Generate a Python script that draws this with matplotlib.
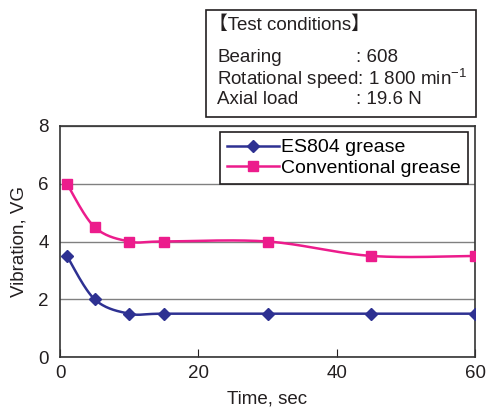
#!/usr/bin/env python3
"""Vibration vs time for ES804 and conventional grease."""
import numpy as np
import matplotlib
matplotlib.use("Agg")
import matplotlib.pyplot as plt
from matplotlib.patches import Rectangle

plt.rcParams["font.family"] = ["Liberation Sans", "Noto Sans CJK JP", "DejaVu Sans"]
plt.rcParams["mathtext.default"] = "regular"

time_s = [1, 5, 10, 15, 30, 45, 60]
es804 = [3.5, 2.0, 1.5, 1.5, 1.5, 1.5, 1.5]
conventional = [6.0, 4.5, 4.0, 4.0, 4.0, 3.5, 3.5]

BLUE = "#2e3192"
PINK = "#ec1c8c"
INK = "#231f20"
FS = 13.5


def smooth(x, y, xspan, yspan, n=30):
    """Excel-like smoothed line (Catmull-Rom through the points)."""
    p = np.column_stack([np.asarray(x, float) / xspan, np.asarray(y, float) / yspan])
    p = np.vstack([p[0], p, p[-1]])
    out = []
    t = np.linspace(0, 1, n)[:, None]
    for i in range(1, len(p) - 2):
        p0, p1, p2, p3 = p[i - 1], p[i], p[i + 1], p[i + 2]
        c1 = p1 + (p2 - p0) / 6
        c2 = p2 - (p3 - p1) / 6
        seg = ((1 - t) ** 3) * p1 + 3 * ((1 - t) ** 2) * t * c1 + 3 * (1 - t) * t ** 2 * c2 + t ** 3 * p2
        out.append(seg)
    out = np.vstack(out)
    return out[:, 0] * xspan, out[:, 1] * yspan


fig = plt.figure(figsize=(4.86, 4.08), dpi=100)
ax = fig.add_axes([60 / 486, 1 - 357 / 408, 415 / 486, 231 / 408])

xspan, yspan = 60.0, 8.0 * 415 / 231
for ys, color, marker, label in [
    (es804, BLUE, "D", "ES804 grease"),
    (conventional, PINK, "s", "Conventional grease"),
]:
    sx, sy = smooth(time_s, ys, xspan, yspan)
    ax.plot(sx, sy, color=color, lw=1.8, zorder=3)
    ax.plot(time_s, ys, ls="none", marker=marker, ms=6.5, color=color, zorder=4)
    ax.plot([], [], color=color, lw=1.8, marker=marker, ms=6.5, label=label)

ax.set_xlim(0, 60)
ax.set_ylim(0, 8)
ax.set_xticks([0, 20, 40, 60])
ax.set_yticks([0, 2, 4, 6, 8])
ax.yaxis.grid(True, color="#808080", lw=1.0)
ax.set_axisbelow(True)
ax.tick_params(axis="x", direction="in", length=6, pad=6, labelsize=FS, colors=INK)
ax.tick_params(axis="y", length=0, pad=8, labelsize=FS, colors=INK)
for s in ax.spines.values():
    s.set_color("#333333")
    s.set_linewidth(1.2)
ax.set_xlabel("Time, sec", fontsize=FS, color=INK, labelpad=6)
ax.set_ylabel("Vibration, VG", fontsize=FS, color=INK, labelpad=8)

leg = ax.legend(loc="upper right", bbox_to_anchor=(0.983, 1 - 6 / 231), borderaxespad=0,
                fontsize=14, handlelength=2.7, handletextpad=0.1, labelspacing=0.15,
                borderpad=0.35, fancybox=False, framealpha=1)
leg.get_frame().set_edgecolor(INK)
leg.get_frame().set_linewidth(1.2)

# test conditions box
fig.patches.append(Rectangle((206 / 486, 1 - 117 / 408), 270 / 486, 107 / 408,
                             transform=fig.transFigure, fill=False, edgecolor=INK, lw=1.2))
lx, cx = 217 / 486, 356 / 486
fig.text(209 / 486, 1 - 25 / 408, "【Test conditions】", fontsize=FS, va="center", color=INK)
fig.text(lx, 1 - 57 / 408, "Bearing", fontsize=FS, va="center", color=INK)
fig.text(cx, 1 - 57 / 408, ": 608", fontsize=FS, va="center", color=INK)
fig.text(lx, 1 - 79 / 408, "Rotational speed: 1 800 min$^{-1}$", fontsize=FS, va="center", color=INK)
fig.text(lx, 1 - 100 / 408, "Axial load", fontsize=FS, va="center", color=INK)
fig.text(cx, 1 - 100 / 408, ": 19.6 N", fontsize=FS, va="center", color=INK)

fig.savefig("out.png", dpi=100)
